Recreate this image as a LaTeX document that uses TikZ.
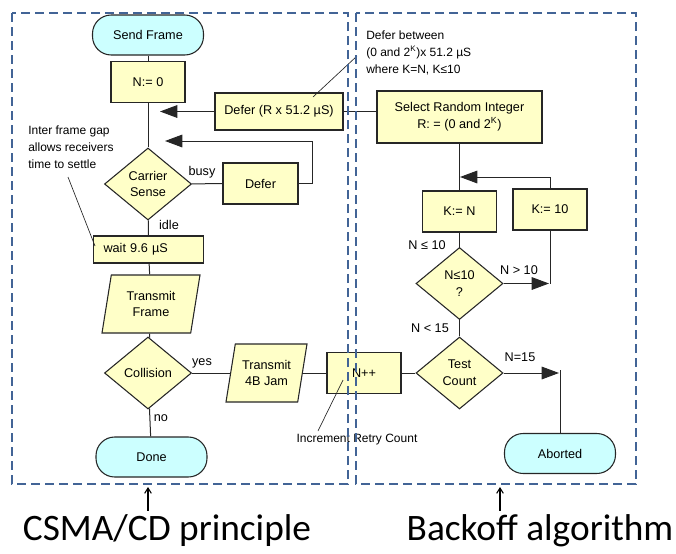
\documentclass[tikz,border=0pt]{standalone}
\usepackage{fontspec}
\setmainfont{Liberation Sans}
\newfontfamily\calfont{Carlito}
\usetikzlibrary{shapes.geometric,arrows.meta}
\definecolor{boxyellow}{RGB}{255,255,200}
\definecolor{termcyan}{RGB}{204,255,255}
\definecolor{dashblue}{RGB}{66,100,150}
\begin{document}
\begin{tikzpicture}[x=0.75pt,y=-0.75pt,
  font=\fontsize{9.5}{12.5}\selectfont,
  box/.style={draw=black!85, fill=boxyellow, line width=0.8pt, minimum width=55.5pt, minimum height=30.75pt, inner sep=1pt, align=center},
  term/.style={draw=black!85, fill=termcyan, line width=0.8pt, rounded corners=14pt, minimum width=83.25pt, minimum height=30pt},
  dia/.style={diamond, draw=black!85, fill=boxyellow, line width=0.8pt, aspect=1.2, inner sep=0pt, minimum width=65.25pt, minimum height=54pt, align=center},
  para/.style={trapezium, trapezium left angle=72, trapezium right angle=108, trapezium stretches body, draw=black!85, fill=boxyellow, line width=0.8pt, minimum height=43.5pt, inner xsep=0pt, inner ysep=1pt, align=center},
  line/.style={line width=0.75pt, draw=black!85},
  arr/.style={line, -{Triangle[length=13pt,width=9.5pt]}},
  annot/.style={line width=0.5pt, draw=black!85},
  lab/.style={inner sep=0pt},
  note/.style={inner sep=0pt, align=left, font=\fontsize{9}{12.5}\selectfont},
  dashbox/.style={draw=dashblue, line width=1.5pt, dash pattern=on 6.75pt off 3.75pt},
  caption/.style={inner sep=0pt, font=\calfont\fontsize{28}{30}\selectfont}
]
\useasboundingbox (0,0) rectangle (676,554);

% ---- left flowchart
\node[term] (sf) at (148,35) {Send Frame};
\node[box] (n0) at (148,82) {N:= 0};
\node[box, minimum width=96pt, minimum height=27.75pt] (dr) at (279,111.5) {Defer (R x 51.2 µS)};
\node[dia] (cs) at (148,184) {Carrier\\Sense};
\node[box, minimum width=56.25pt] (df) at (260.5,183.5) {Defer};
\node[box, text width=67.5pt, inner xsep=7.5pt, minimum height=20.25pt, align=left] (wt) at (148.5,249.5) {wait 9.6 µS};
\node[para, minimum width=73.5pt] (tf) at (151,304) {Transmit\\Frame};
\node[dia] (co) at (148,373) {Collision};
\node[para, minimum width=60.75pt] (jm) at (266.5,373) {Transmit\\4B Jam};
\node[term] (dn) at (151.5,457) {Done};

% ---- right flowchart
\node[box, minimum width=123.75pt, minimum height=39pt] (sr) at (459.5,117) {Select Random Integer\\R: = (0 and 2\textsuperscript{K})};
\node[box] (kn) at (459.5,211.5) {K:= N};
\node[box] (k10) at (550,209.5) {K:= 10};
\node[dia] (nq) at (459.5,283.5) {N≤10\\?};
\node[dia] (tc) at (459.5,373) {Test\\Count};
\node[box] (np) at (364,373) {N++};
\node[term] (ab) at (560,453.5) {Aborted};

% ---- connectors
\draw[line] (sf) -- (n0);
\draw[line] (n0) -- (cs);
\coordinate (t1) at (160,111.5);
\draw[arr] (dr.west) -- (t1);
\coordinate (c2) at (312,141);
\coordinate (t2) at (165,141);
\draw[arr] (df.east) -| (c2) -- (t2);
\draw[line] (cs) -- (df);
\draw[line] (cs) -- (wt);
\draw[line] (wt) -- (tf);
\draw[line] (tf) -- (co);
\draw[line] (co.east) -- (jm.left side);
\draw[line] (jm.right side) -- (np.west);
\draw[line] (co) -- (dn);
\draw[line] (np) -- (tc);
\coordinate (t3) at (559,373);
\draw[arr] (tc.east) -- (t3);
\coordinate (abtop) at (560,370);
\draw[line] (ab.north) -- (abtop);
\draw[line] (tc) -- (nq);
\coordinate (t4) at (549,283.5);
\draw[arr] (nq.east) -- (t4);
\draw[line] (k10.south) -- (k10.south |- nq.east);
\coordinate (c5) at (550,177);
\coordinate (t5) at (460,177);
\draw[arr] (k10.north) -- (c5) -- (t5);
\draw[line] (sr) -- (kn);
\draw[line] (kn) -- (nq);
\draw[line] (dr.east) -- (dr.east -| sr.west);

% ---- labels
\node[lab] (lbusy) at (202,172) {busy};
\node[lab] (lidle) at (169,225) {idle};
\node[lab] (lyes) at (202,363) {yes};
\node[lab] (lno) at (161,418) {no};
\node[lab] (lle) at (427,245) {N ≤ 10};
\node[lab] (lgt) at (519,270) {N > 10};
\node[lab] (llt) at (430,328) {N < 15};
\node[lab] (leq) at (520,357) {N=15};

% ---- annotations
\node[note, anchor=north west] (a1) at (28,126) {Inter frame gap\\allows receivers\\time to settle};
\coordinate (a1s) at (68,177);
\coordinate (a1e) at (95,246);
\draw[annot] (a1s) -- (a1e);
\node[note, anchor=north west] (a2) at (366,31) {Defer between\\(0 and 2\textsuperscript{K})x 51.2 µS\\where K=N, K≤10};
\coordinate (a2s) at (357,56);
\coordinate (a2e) at (313,97);
\draw[annot] (a2s) -- (a2e);
\node[note] (a3) at (357,440) {Increment Retry Count};
\coordinate (a3s) at (318,431);
\coordinate (a3e) at (343,380);
\draw[annot] (a3s) -- (a3e);

% ---- dashed groups
\draw[dashbox] (12,13) rectangle (348,484);
\draw[dashbox] (356,13) rectangle (636,484);

% ---- captions
\node[caption] (cap1) at (167,531) {CSMA/CD principle};
\node[caption] (cap2) at (540,531) {Backoff algorithm};
\coordinate (g1) at (148,487);
\coordinate (g2) at (500,487);
\draw[line width=0.8pt, -{Straight Barb[length=4pt,width=5pt]}] (cap1.north -| g1) ++(0,-4) -- (g1);
\draw[line width=0.8pt, -{Straight Barb[length=4pt,width=5pt]}] (cap2.north -| g2) ++(0,-4) -- (g2);
\end{tikzpicture}
\end{document}
